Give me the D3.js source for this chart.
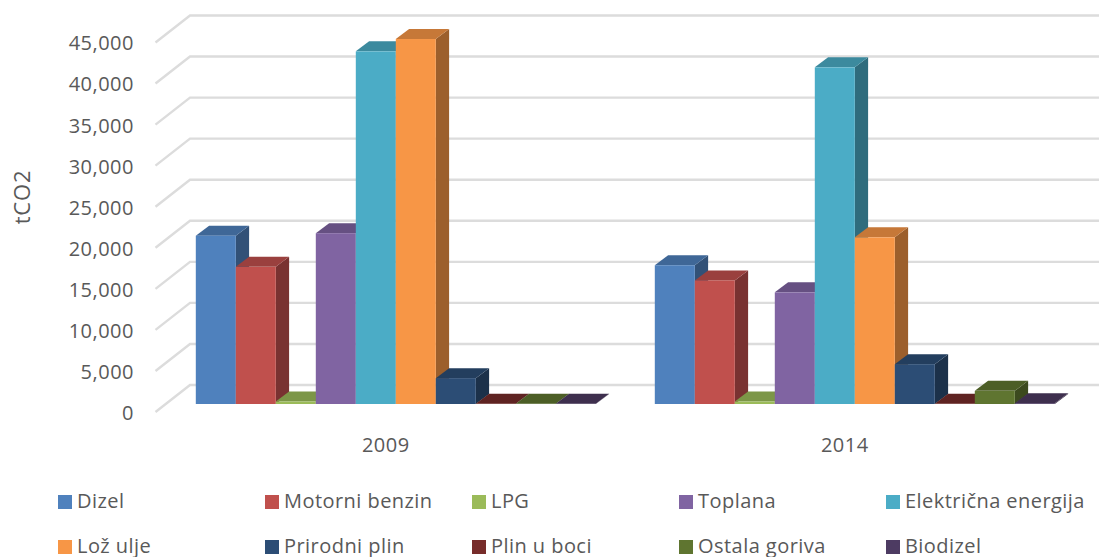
<!DOCTYPE html>
<html>
<head>
<meta charset="utf-8">
<script src="https://cdn.jsdelivr.net/npm/d3@7.9.0/dist/d3.min.js"></script>
<style>
  body { margin: 0; background: #fff; }
  text { font-family: "Open Sans", sans-serif; fill: #595959; }
</style>
</head>
<body>
<svg id="chart" width="1099" height="557"></svg>
<script>
const categories = ["2009", "2014"];
const seriesNames = ["Dizel", "Motorni benzin", "LPG", "Toplana", "Električna energija",
  "Lož ulje", "Prirodni plin", "Plin u boci", "Ostala goriva", "Biodizel"];
const seriesColors = ["#4f81bd", "#c0504d", "#9bbb59", "#8064a2", "#4bacc6",
  "#f79646", "#2c4d75", "#772c2a", "#5f7530", "#4d3b62"];
const values2009 = [20500, 16700, 300, 20800, 42950, 44450, 3150, 20, 20, 20];
const values2014 = [16900, 15050, 300, 13600, 41000, 20300, 4850, 20, 1600, 100];
const yTicks = [0, 5000, 10000, 15000, 20000, 25000, 30000, 35000, 40000, 45000];

const svg = d3.select("#chart");

// wall depth of the fake 3d box, and the depth of a single bar
const wall = { dx: 34.5, dy: -27 };
const bar = { dx: 13.3, dy: -10, lift: 8 };

const y = d3.scaleLinear().domain([0, 45000]).range([412, 42.5]);
const x0 = d3.scaleBand().domain(categories).range([166.3, 1084.3]);
const x1 = d3.scaleBand().domain(seriesNames).range([29.5, 429.5]);

function shade(c, k) {
  const r = d3.rgb(c);
  return d3.rgb(r.r * k, r.g * k, r.b * k).formatHex();
}

// gridlines
const line = d3.line();
svg.append("g").selectAll("path").data(yTicks).join("path")
  .attr("d", d => line([
    [155.5, y(d)],
    [155.5 + wall.dx, y(d) + wall.dy],
    [1099, y(d) + wall.dy]
  ]))
  .attr("fill", "none")
  .attr("stroke", "#dcdcdc")
  .attr("stroke-width", 2.4);

// y axis
const yAxis = svg.append("g")
  .attr("transform", "translate(134,1)")
  .call(d3.axisLeft(y).tickValues(yTicks).tickFormat(d3.format(",")).tickSize(0).tickPadding(0));
yAxis.select(".domain").remove();
yAxis.selectAll("text")
  .style("font-family", '"Open Sans", sans-serif')
  .style("font-size", "20px")
  .style("letter-spacing", "0.5px")
  .attr("fill", "#595959");

svg.append("text")
  .attr("transform", "translate(30,197) rotate(-90)")
  .attr("text-anchor", "middle")
  .style("font-size", "22px")
  .style("letter-spacing", "0.8px")
  .text("tCO2");

// bars, left to right so each one covers the side of the previous
const allValues = { "2009": values2009, "2014": values2014 };
categories.forEach(cat => {
  const g = svg.append("g").attr("transform", `translate(${x0(cat)},0)`);
  seriesNames.forEach((name, i) => {
    const left = x1(name);
    const w = x1.bandwidth();
    const top = y(allValues[cat][i]) - bar.lift;
    const base = y(0) - bar.lift;
    const c = seriesColors[i];
    g.append("path")
      .attr("d", line([[left + w, top], [left + w + bar.dx, top + bar.dy],
        [left + w + bar.dx, base + bar.dy], [left + w, base]]) + "Z")
      .attr("fill", shade(c, 0.63));
    g.append("path")
      .attr("d", line([[left, top], [left + bar.dx, top + bar.dy],
        [left + w + bar.dx, top + bar.dy], [left + w, top]]) + "Z")
      .attr("fill", shade(c, 0.8));
    g.append("rect")
      .attr("x", left).attr("y", top)
      .attr("width", w).attr("height", base - top)
      .attr("fill", c);
  });
});

// category labels
svg.append("g").selectAll("text").data(categories).join("text")
  .attr("x", d => x0(d) + x0.bandwidth() / 2 - 10)
  .attr("y", 452)
  .attr("text-anchor", "middle")
  .style("font-size", "20px")
  .style("letter-spacing", "0.5px")
  .text(d => d);

// legend, two rows of five
const legendX = d3.scalePoint().domain(d3.range(5)).range([58, 886]);
const legendY = d3.scalePoint().domain([0, 1]).range([502, 547]);
const item = svg.append("g").selectAll("g").data(seriesNames).join("g")
  .attr("transform", (d, i) => `translate(${legendX(i % 5)},${legendY(Math.floor(i / 5))})`);
item.append("rect")
  .attr("y", -7).attr("width", 14).attr("height", 14)
  .attr("fill", (d, i) => seriesColors[i]);
item.append("text")
  .attr("x", 19)
  .attr("y", 5.5)
  .style("font-size", "20px")
  .style("letter-spacing", "0.45px")
  .text(d => d);
</script>
</body>
</html>
